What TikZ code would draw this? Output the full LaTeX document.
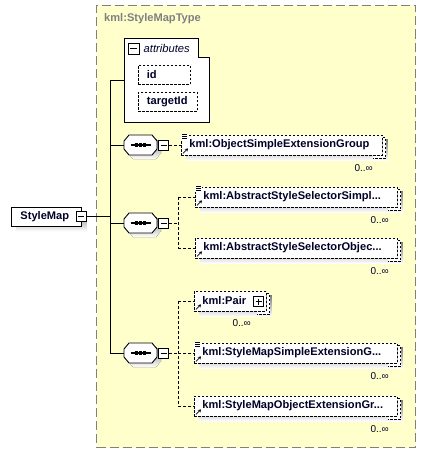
\documentclass[tikz,border=0pt]{standalone}
\usepackage{fontspec}
\setmainfont{Liberation Sans}
\usetikzlibrary{calc,arrows.meta}
\definecolor{typebg}{RGB}{255,255,204}
\definecolor{typeline}{RGB}{128,128,128}
\definecolor{shade}{RGB}{192,192,192}
\definecolor{ink}{RGB}{0,0,40}
\pgfdeclarelayer{bgl}\pgfdeclarelayer{shl}\pgfdeclarelayer{bkl}
\pgfsetlayers{bgl,shl,bkl,main}
\newcommand\elemfont{\fontsize{11.1}{12}\selectfont\bfseries}
\newcommand\elemshadow[2]{%
  \begin{pgfonlayer}{shl}
  \fill[shade] ($(#1.south west)+(#2,#2)$) rectangle ($(#1.north east)+(#2,#2)$);
  \end{pgfonlayer}}
\newcommand\elemstack[1]{%
  \begin{pgfonlayer}{bkl}
  \fill[white] ($(#1.north east)+(0,3)$) -- ++(3,0) |- ($(#1.south east)+(-10,3)$) -- ++(0,-3) -| (#1.south east) -- cycle;
  \draw[edash] ($(#1.north east)+(0,3)$) -- ++(3,0) |- ($(#1.south east)+(-10,3)$);
  \end{pgfonlayer}}
\newcommand\elemlines[1]{%
  \fill[white] ($(#1.north west)+(0,-1)$) rectangle ($(#1.north west)+(7,5)$);
  \draw[line width=0.7pt] ($(#1.north west)+(1,-0.5)$) -- ++(5,0) ($(#1.north west)+(1,1.5)$) -- ++(5,0) ($(#1.north west)+(1,3.5)$) -- ++(5,0);}
\newcommand\elemref[1]{%
  \draw[line width=0.8pt,-{Stealth[length=3pt,width=3.5pt]}] ($(#1.south west)+(2,-2)$) -- ++(5,-5);}
\newcommand\seqshape[1]{%
  \begin{pgfonlayer}{shl}
  \fill[shade] ($(#1.center)+(4,4)$) +(-11.5,-10) -- +(11.5,-10) -- +(16.5,-4) -- +(16.5,4) -- +(11.5,10) -- +(-11.5,10) -- +(-16.5,4) -- +(-16.5,-4) -- cycle;
  \end{pgfonlayer}
  \draw[conn,fill=white] (#1.center) +(-11.5,-10) -- +(11.5,-10) -- +(16.5,-4) -- +(16.5,4) -- +(11.5,10) -- +(-11.5,10) -- +(-16.5,4) -- +(-16.5,-4) -- cycle;
  \draw[line width=1.3pt] ($(#1.center)+(-10,0)$) -- ++(20,0);
  \foreach \dx in {-4,0,4} \fill ($(#1.center)+(\dx,0)$) +(-1.6,-1.6) rectangle +(1.6,1.6);}
\tikzset{
  conn/.style={line width=0.9pt},
  dconn/.style={line width=0.9pt, dash pattern=on 3pt off 2pt},
  edash/.style={line width=0.8pt, dash pattern=on 2.5pt off 1.5pt},
  elem/.style={draw, edash, fill=white, minimum height=20pt, inner ysep=0pt, inner xsep=8pt, align=left, anchor=west, font=\elemfont, text=ink},
  attrbox/.style={draw, edash, fill=white, minimum height=19pt, inner ysep=0pt, inner xsep=8.5pt, align=left, anchor=north west, font=\elemfont, text=ink},
  rootbox/.style={draw, conn, fill=white, minimum height=19pt, inner ysep=0pt, inner xsep=9pt, align=left, anchor=north west, font=\elemfont, text=ink},
  seqbox/.style={minimum width=33pt, minimum height=20pt, inner sep=0pt},
  occ/.style={font=\fontsize{10}{11}\selectfont, text=ink, inner sep=0pt, anchor=east},
  minbox/.style={draw, fill=white, line width=0.8pt, minimum size=10pt, inner sep=0pt,
    path picture={\draw[line width=0.8pt] ([xshift=2pt]path picture bounding box.west) -- ([xshift=-2pt]path picture bounding box.east);}},
  plusbox/.style={minbox, path picture={\draw[line width=0.8pt] ([xshift=2pt]path picture bounding box.west) -- ([xshift=-2pt]path picture bounding box.east);
    \draw[line width=0.8pt] ([yshift=-2pt]path picture bounding box.north) -- ([yshift=2pt]path picture bounding box.south);}},
  typebox/.style={draw=typeline, fill=typebg, line width=1pt, dash pattern=on 9pt off 4pt, anchor=north west, inner sep=0pt},
}
\begin{document}
\begin{tikzpicture}[x=1pt,y=-1pt]
\useasboundingbox (0,0) rectangle (426,452);
\begin{pgfonlayer}{bgl}
\fill[white] (0,0) rectangle (426,452);
\node[typebox, minimum width=319pt, minimum height=442pt] (type) at (96,5) {};
\end{pgfonlayer}
\node[font=\fontsize{11.1}{12}\selectfont\bfseries, text=typeline, anchor=west, inner sep=0pt] (title) at (104,19) {kml:StyleMapType};

% attributes
\draw[conn, fill=white] (124,38) -- (198,38) -- (198,57) -- (209,57) -- (209,122) -- (124,122) -- cycle;
\node[minbox, minimum size=11pt] (attmin) at (133.5,48.5) {};
\node[font=\fontsize{11.2}{12}\selectfont\itshape, text=ink, anchor=west, inner sep=0pt] (attlbl) at (143.5,48.5) {attributes};
\node[attrbox, text width=35pt] (aid) at (138,65) {id};
\elemshadow{aid}{4}
\node[attrbox, text width=42pt] (atid) at (138,92) {targetId};
\elemshadow{atid}{4}

% root
\node[rootbox, text width=52pt] (root) at (11,206.5) {StyleMap};
\elemshadow{root}{5}
\node[minbox] (m0) at (81,216) {};

% trunk
\coordinate (ta) at (110,80);
\coordinate (att) at (124,80);
\coordinate (tm) at (110,216);
\coordinate (t1) at (110,145);
\coordinate (t2) at (110,223);
\coordinate (t3) at (110,353);
\draw[conn] (ta) -- (t3);
\draw[conn] (ta) -- (att);
\draw[conn] (m0.east) -- (tm);

% sequences
\node[seqbox] (s1) at (140.5,145) {};
\node[seqbox] (s2) at (140.5,223) {};
\node[seqbox] (s3) at (140.5,353) {};
\draw[conn] (t1) -- (s1.west);
\draw[conn] (t2) -- (s2.west);
\draw[conn] (t3) -- (s3.west);
\seqshape{s1}\seqshape{s2}\seqshape{s3}
\node[minbox] (sm1) at (163.5,145) {};
\node[minbox] (sm2) at (163.5,223) {};
\node[minbox] (sm3) at (163.5,353) {};

% group 1
\node[elem, text width=185pt] (b1) at (181,145) {kml:ObjectSimpleExtensionGroup};
\elemshadow{b1}{5}\elemstack{b1}\elemlines{b1}\elemref{b1}
\node[occ] (o1) at (373,168) {0..∞};
\draw[dconn] (sm1.east) -- (b1.west);

% group 2
\coordinate (j2) at (178,223);
\coordinate (j2a) at (178,197);
\coordinate (j2b) at (178,248);
\node[elem, text width=186pt] (b2) at (195,197) {kml:AbstractStyleSelectorSimpl...};
\elemshadow{b2}{5}\elemstack{b2}\elemlines{b2}\elemref{b2}
\node[occ] (o2) at (389,220) {0..∞};
\node[elem, text width=186pt] (b3) at (195,248) {kml:AbstractStyleSelectorObjec...};
\elemshadow{b3}{5}\elemstack{b3}\elemref{b3}
\node[occ] (o3) at (389,271) {0..∞};
\draw[dconn] (sm2.east) -- (j2);
\draw[dconn] (j2a) -- (j2b);
\draw[dconn] (j2a) -- (b2.west);
\draw[dconn] (j2b) -- (b3.west);

% group 3
\coordinate (j3) at (178,353);
\coordinate (j3a) at (178,301);
\coordinate (j3c) at (178,406);
\node[elem, text width=56pt] (b4) at (194,301) {kml:Pair};
\elemshadow{b4}{5}\elemstack{b4}\elemref{b4}
\node[plusbox] (p4) at (258.5,301.5) {};
\node[occ] (o4) at (251,323) {0..∞};
\node[elem, text width=187pt] (b5) at (194,353) {kml:StyleMapSimpleExtensionG...};
\elemshadow{b5}{5}\elemstack{b5}\elemlines{b5}\elemref{b5}
\node[occ] (o5) at (389,376) {0..∞};
\node[elem, text width=187pt] (b6) at (194,406) {kml:StyleMapObjectExtensionGr...};
\elemshadow{b6}{5}\elemstack{b6}\elemref{b6}
\node[occ] (o6) at (389,429) {0..∞};
\draw[dconn] (sm3.east) -- (j3);
\draw[dconn] (j3a) -- (j3c);
\draw[dconn] (j3a) -- (b4.west);
\draw[dconn] (j3) -- (b5.west);
\draw[dconn] (j3c) -- (b6.west);
\end{tikzpicture}
\end{document}
